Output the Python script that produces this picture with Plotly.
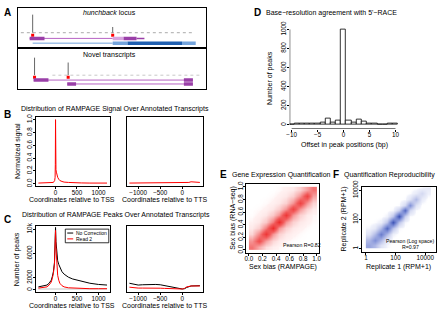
import plotly.graph_objects as go

W, H = 440, 311
def fx(p): return p / W
def fy(p): return 1 - p / H

# ---------------- DATA ----------------
# Panel A (track units 0-100)
hb_track = [1.6, 93.7]
hb_peak_pos = [7.9, 50.5]
hb_peak_height = [3.8, 1.2]
hb_tx1_intron = [6.3, 50.5]
hb_tx1_exons_dark = [[6.3, 14.2], [56.3, 63.2]]
hb_tx1_exons_light = [[50.5, 56.3]]
hb_tx1_tail = [63.2, 67.4]
hb_tx2_intron = [7.9, 50.5]
hb_tx2_exons_dark = [[58.4, 87.4]]
hb_tx2_exons_light = [[50.5, 58.4], [87.4, 94.7]]

nv_track = [18.4, 97.4]
nv_peak_pos = [8.9, 26.8]
nv_peak_height = [3.6, 2.6]
nv_tx1_intron = [8.4, 93.2]
nv_tx1_exons = [[8.4, 16.3], [88.4, 93.2]]
nv_tx2_intron = [26.3, 93.2]
nv_tx2_exons = [[26.3, 31.0], [88.4, 93.2]]

# Panel B
b_tss_x = [-400, -300, -200, -100, -50, -20, -10, -5, 0, 5, 10, 20, 30, 50, 75, 100, 150, 200, 300, 400, 600, 800, 1000, 1200]
b_tss_y = [0.01, 0.01, 0.012, 0.015, 0.02, 0.05, 0.1, 0.3, 1.0, 0.35, 0.22, 0.18, 0.15, 0.1, 0.07, 0.05, 0.035, 0.025, 0.02, 0.015, 0.012, 0.01, 0.01, 0.01]
b_tts_x = [-1200, -1000, -800, -600, -400, -200, 0, 100, 150, 200, 250, 300, 350, 400]
b_tts_y = [0.01, 0.01, 0.012, 0.01, 0.01, 0.012, 0.01, 0.015, 0.02, 0.03, 0.025, 0.03, 0.02, 0.02]

# Panel C
c_tss_x = [-400, -300, -200, -150, -100, -75, -50, -25, -10, 0, 10, 25, 50, 75, 100, 150, 200, 300, 400, 500, 600, 800, 1000, 1200]
c_tss_nocorr = [500, 600, 800, 1100, 1600, 2200, 3000, 4500, 7000, 10300, 8000, 6000, 4800, 4200, 3700, 3000, 2600, 2100, 1800, 1600, 1400, 1100, 900, 800]
c_tss_read2 = [300, 400, 500, 800, 1300, 1900, 2700, 4200, 6500, 9800, 7000, 4500, 2400, 1600, 1100, 700, 500, 350, 300, 250, 220, 200, 200, 200]
c_tss_gray = [150, 150, 150, 150, 150, 150, 150, 150, 150, 150, 150, 150, 150, 150, 150, 150, 150, 150, 150, 150, 150, 150, 150, 150]
c_tts_x = [-1200, -1100, -1000, -900, -800, -700, -600, -500, -400, -300, -200, -100, 0, 50, 100, 200, 300, 400]
c_tts_nocorr = [1100, 950, 800, 850, 900, 950, 900, 850, 700, 600, 500, 250, 150, 200, 400, 650, 700, 700]
c_tts_read2 = [450, 350, 300, 300, 320, 330, 300, 280, 250, 230, 200, 150, 150, 250, 500, 650, 650, 650]

# Panel D
d_offset = [-10, -9, -8, -7, -6, -5, -4, -3, -2, -1, 0, 1, 2, 3, 4, 5, 6, 7, 8, 9, 10]
d_count = [8, 10, 14, 14, 12, 18, 28, 62, 22, 45, 1000, 42, 24, 58, 35, 16, 10, 8, 6, 12, 12]

# Panel E (density of genes, 10x10 bins over [0,1])
e_bins = [0.05, 0.15, 0.25, 0.35, 0.45, 0.55, 0.65, 0.75, 0.85, 0.95]
e_density = [
    [5, 2.5, 0.6, 0.2, 0.1, 0.05, 0.03, 0.02, 0.02, 0.02],
    [3.5, 7, 3, 0.8, 0.3, 0.12, 0.06, 0.04, 0.03, 0.02],
    [0.8, 4, 9, 3.5, 1.0, 0.35, 0.15, 0.08, 0.04, 0.03],
    [0.3, 1.0, 4.5, 10, 3.5, 1.0, 0.35, 0.15, 0.08, 0.04],
    [0.12, 0.35, 1.3, 4.5, 10, 3.5, 1.0, 0.35, 0.15, 0.08],
    [0.06, 0.15, 0.4, 1.3, 3.5, 9, 3.5, 1.0, 0.3, 0.1],
    [0.04, 0.08, 0.15, 0.4, 1.1, 3.5, 8, 3.5, 1.0, 0.3],
    [0.03, 0.04, 0.08, 0.15, 0.35, 1.0, 3.5, 8, 3.5, 0.9],
    [0.02, 0.03, 0.04, 0.08, 0.15, 0.35, 1.0, 3.5, 8, 3],
    [0.02, 0.02, 0.03, 0.04, 0.08, 0.15, 0.3, 1.0, 3, 5],
]

# Panel F (density in log10 space)
f_bins = [0.2, 0.6, 1.0, 1.4, 1.8, 2.2, 2.6, 3.0, 3.4, 3.8, 4.2]
f_density = [
    [4, 3, 1, 0.2, 0, 0, 0, 0, 0, 0, 0],
    [3, 5, 3, 0.5, 0, 0, 0, 0, 0, 0, 0],
    [1, 3, 6, 3, 0.3, 0, 0, 0, 0, 0, 0],
    [0.2, 0.8, 3, 7, 2.5, 0.2, 0, 0, 0, 0, 0],
    [0, 0.1, 0.4, 2.5, 8, 2.5, 0.2, 0, 0, 0, 0],
    [0, 0, 0, 0.3, 2.5, 8, 2, 0.1, 0, 0, 0],
    [0, 0, 0, 0, 0.2, 2, 7, 1.5, 0.1, 0, 0],
    [0, 0, 0, 0, 0, 0.1, 1.5, 5, 1, 0, 0],
    [0, 0, 0, 0, 0, 0, 0.1, 1, 3, 0.5, 0],
    [0, 0, 0, 0, 0, 0, 0, 0.1, 0.6, 1.5, 0.3],
    [0, 0, 0, 0, 0, 0, 0, 0, 0, 0.2, 0.6],
]

# ---------------- FIGURE ----------------
FONT = "Liberation Sans, Arial, sans-serif"
fig = go.Figure()

def seg_trace(spans, y, color, width, ax):
    xs, ys = [], []
    for s, e in spans:
        xs += [s, e, None]; ys += [y, y, None]
    return go.Scatter(x=xs, y=ys, mode="lines", line=dict(color=color, width=width),
                      xaxis="x" + ax, yaxis="y" + ax, hoverinfo="skip", showlegend=False)

def peaks_trace(pos, hts, ax):
    xs, ys = [], []
    for p, h in zip(pos, hts):
        xs += [p, p, None]; ys += [0, h, None]
    return go.Scatter(x=xs, y=ys, mode="lines", line=dict(color="#666666", width=1),
                      xaxis="x" + ax, yaxis="y" + ax, hoverinfo="skip", showlegend=False)

PURPLE_D, PURPLE_L, PURPLE_T = "#9a3fa8", "#d7a4df", "#b763c4"
BLUE_D, BLUE_L = "#1f5fb0", "#74a4dc"

# A top
fig.add_trace(go.Scatter(x=hb_track, y=[0, 0], mode="lines", line=dict(color="#aaa", width=1, dash="dot"),
                         xaxis="x1", yaxis="y1", showlegend=False, hoverinfo="skip"))
fig.add_trace(peaks_trace(hb_peak_pos, hb_peak_height, "1"))
fig.add_trace(go.Scatter(x=hb_peak_pos, y=[-0.55] * len(hb_peak_pos), mode="markers",
                         marker=dict(color="red", size=3, symbol="square"), xaxis="x1", yaxis="y1",
                         showlegend=False, hoverinfo="skip"))
fig.add_trace(seg_trace([hb_tx1_intron], -1.2, PURPLE_T, 1, "1"))
fig.add_trace(seg_trace([hb_tx1_tail], -1.2, PURPLE_D, 1.5, "1"))
fig.add_trace(seg_trace(hb_tx1_exons_light, -1.2, PURPLE_L, 3.5, "1"))
fig.add_trace(seg_trace(hb_tx1_exons_dark, -1.2, PURPLE_D, 3.5, "1"))
fig.add_trace(seg_trace([hb_tx2_intron], -2.2, BLUE_L, 1, "1"))
fig.add_trace(seg_trace(hb_tx2_exons_light, -2.2, BLUE_L, 3.5, "1"))
fig.add_trace(seg_trace(hb_tx2_exons_dark, -2.2, BLUE_D, 3.5, "1"))

# A bottom
fig.add_trace(go.Scatter(x=nv_track, y=[0, 0], mode="lines", line=dict(color="#c8c8c8", width=1, dash="dot"),
                         xaxis="x2", yaxis="y2", showlegend=False, hoverinfo="skip"))
fig.add_trace(peaks_trace(nv_peak_pos, nv_peak_height, "2"))
fig.add_trace(go.Scatter(x=nv_peak_pos, y=[-0.4] * len(nv_peak_pos), mode="markers",
                         marker=dict(color="red", size=3, symbol="square"), xaxis="x2", yaxis="y2",
                         showlegend=False, hoverinfo="skip"))
fig.add_trace(seg_trace([nv_tx1_intron], -1.0, PURPLE_T, 1, "2"))
fig.add_trace(seg_trace(nv_tx1_exons, -1.0, PURPLE_D, 3.5, "2"))
fig.add_trace(seg_trace([nv_tx2_intron], -1.8, PURPLE_T, 1, "2"))
fig.add_trace(seg_trace(nv_tx2_exons, -1.8, PURPLE_D, 3.5, "2"))

# B
fig.add_trace(go.Scatter(x=b_tss_x, y=b_tss_y, mode="lines", line=dict(color="red", width=1),
                         xaxis="x3", yaxis="y3", showlegend=False))
fig.add_trace(go.Scatter(x=b_tts_x, y=b_tts_y, mode="lines", line=dict(color="red", width=1),
                         xaxis="x4", yaxis="y4", showlegend=False))

# C
fig.add_trace(go.Scatter(x=c_tss_x, y=c_tss_gray, mode="lines", line=dict(color="#d8d8d8", width=1.5),
                         xaxis="x5", yaxis="y5", showlegend=False))
fig.add_trace(go.Scatter(x=c_tss_x, y=c_tss_nocorr, mode="lines", line=dict(color="black", width=1),
                         xaxis="x5", yaxis="y5", showlegend=False))
fig.add_trace(go.Scatter(x=c_tss_x, y=c_tss_read2, mode="lines", line=dict(color="red", width=1),
                         xaxis="x5", yaxis="y5", showlegend=False))
fig.add_trace(go.Scatter(x=c_tts_x, y=c_tts_nocorr, mode="lines", line=dict(color="black", width=1),
                         xaxis="x6", yaxis="y6", showlegend=False))
fig.add_trace(go.Scatter(x=c_tts_x, y=c_tts_read2, mode="lines", line=dict(color="red", width=1),
                         xaxis="x6", yaxis="y6", showlegend=False))

# D
fig.add_trace(go.Bar(x=d_offset, y=d_count, width=1, marker=dict(color="white", line=dict(color="black", width=0.8)),
                     xaxis="x7", yaxis="y7", showlegend=False))

# E
fig.add_trace(go.Heatmap(x=e_bins, y=e_bins, z=e_density, zsmooth="best", showscale=False,
                         colorscale=[[0, "rgba(255,255,255,0)"], [0.01, "#fff2f2"], [0.08, "#fcd6d6"],
                                     [0.3, "#f7a0a0"], [0.6, "#f25c5c"], [1, "#ec2a2a"]],
                         xaxis="x8", yaxis="y8", hoverinfo="skip"))
# F
fig.add_trace(go.Heatmap(x=f_bins, y=f_bins, z=f_density, zsmooth="best", showscale=False,
                         colorscale=[[0, "rgba(255,255,255,0)"], [0.03, "#f0f2fb"], [0.25, "#c9cfee"],
                                     [0.6, "#8494d9"], [1, "#3b52b5"]],
                         xaxis="x9", yaxis="y9", hoverinfo="skip"))

TICKF = dict(family=FONT, size=6.3, color="black")

def axis(dom, rng, anchor, box=True, ticks=True, **kw):
    d = dict(domain=dom, range=rng, anchor=anchor, showgrid=False, zeroline=False,
             showline=True, linecolor="black", linewidth=1, mirror=box,
             ticks="outside" if ticks else "", ticklen=2, tickwidth=0.8, tickcolor="black",
             showticklabels=ticks, tickfont=TICKF, fixedrange=True, ticklabelstandoff=-2)
    d.update(kw)
    return d

xa = lambda a, b: [fx(a), fx(b)]
ya = lambda top, bot: [fy(bot), fy(top)]

lay = dict(
    width=W, height=H, margin=dict(l=0, r=0, t=0, b=0),
    paper_bgcolor="white", plot_bgcolor="white", font=dict(family=FONT, size=6, color="black"),
    showlegend=False, bargap=0,
)
lay["xaxis"] = axis(xa(15, 205), [0, 100], "y", ticks=False)
lay["yaxis"] = axis(ya(1, 42), [-3.2, 5.2], "x", ticks=False)
lay["xaxis2"] = axis(xa(15, 205), [0, 100], "y2", ticks=False)
lay["yaxis2"] = axis(ya(42, 84), [-2.8, 5.6], "x2", ticks=False)

lay["xaxis3"] = axis(xa(33, 108), [-464, 1264], "y3", tickvals=[0, 500, 1000])
lay["yaxis3"] = axis(ya(113, 184), [-0.04, 1.04], "x3", tickvals=[0, 0.2, 0.4, 0.6, 0.8, 1.0],
                     ticktext=["0.0", "0.2", "0.4", "0.6", "0.8", "1.0"], tickangle=-90)
lay["xaxis4"] = axis(xa(125, 202), [-1264, 464], "y4", tickvals=[-1000, -500, 0])
lay["yaxis4"] = axis(ya(113, 184), [-0.04, 1.04], "x4", ticks=False)

lay["xaxis5"] = axis(xa(33, 108), [-464, 1264], "y5", tickvals=[0, 500, 1000])
lay["yaxis5"] = axis(ya(225, 293), [-420, 10500], "x5", tickvals=[0, 2000, 6000, 10000], tickangle=-90)
lay["xaxis6"] = axis(xa(125, 202), [-1264, 464], "y6", tickvals=[-1000, -500, 0])
lay["yaxis6"] = axis(ya(225, 293), [-420, 10500], "x6", ticks=False)

D_XR = [-10.38, 10.57]
D_YR = [-41, 1041]
lay["xaxis7"] = axis(xa(290, 400), D_XR, "y7", box=False, showline=False, tickvals=[-10, -5, 0, 5, 10])
lay["yaxis7"] = axis(ya(19, 125), D_YR, "x7", box=False, showline=False,
                     tickvals=[0, 200, 400, 600, 800, 1000], tickangle=-90)

lay["xaxis8"] = axis(xa(246, 320), [-0.04, 1.04], "y8", tickvals=[0, 0.2, 0.4, 0.6, 0.8, 1.0],
                     ticktext=["0.0", "0.2", "0.4", "0.6", "0.8", "1.0"])
lay["yaxis8"] = axis(ya(182, 252), [-0.04, 1.04], "x8", tickvals=[0, 0.2, 0.4, 0.6, 0.8, 1.0],
                     ticktext=["0.0", "0.2", "0.4", "0.6", "0.8", "1.0"], tickangle=-90)

lay["xaxis9"] = axis(xa(363, 438), [-0.27, 4.73], "y9", tickvals=[0, 2, 4], ticktext=["1", "100", "10000"])
lay["yaxis9"] = axis(ya(185, 251), [-0.2, 4.2], "x9", tickvals=[0, 2, 4], ticktext=["1", "100", "10000"], tickangle=-90)

ann = []
def T(x, y, text, size=6, angle=0, bold=False, xanchor="center"):
    ann.append(dict(x=fx(x), y=fy(y), xref="paper", yref="paper", text=("<b>%s</b>" % text) if bold else text,
                    showarrow=False, font=dict(family=FONT, size=size, color="black"), textangle=angle,
                    xanchor=xanchor, yanchor="middle"))

for L, x, y in [("A", 5, 6), ("B", 5, 110), ("C", 5, 218), ("D", 257, 6), ("E", 223, 172), ("F", 337, 172)]:
    T(x, y, L, size=10, bold=True)

TS = 7.0   # main titles
AS = 7.0   # axis titles
T(108, 6, "<i>hunchback</i> locus", size=7)
T(108, 49, "Novel transcripts", size=7)
T(113, 105, "Distribution of RAMPAGE Signal Over Annotated Transcripts", size=TS)
T(114, 214, "Distribution of RAMPAGE Peaks Over Annotated Transcripts", size=TS)
T(70, 198, "Coordinates relative to TSS", size=AS)
T(163, 198, "Coordinates relative to TTS", size=AS)
T(70, 306.5, "Coordinates relative to TSS", size=AS)
T(163, 306.5, "Coordinates relative to TTS", size=AS)
T(15, 148, "Normalized signal", size=AS, angle=-90)
T(15, 259, "Number of peaks", size=AS, angle=-90)
T(332, 6, "Base−resolution agreement with 5'−RACE", size=TS)
T(270, 73, "Number of peaks", size=AS, angle=-90)
T(345, 142, "Offset in peak positions (bp)", size=AS)
T(282, 172, "Gene Expression Quantification", size=TS)
T(283, 267, "Sex bias (RAMPAGE)", size=AS)
T(233, 216, "Sex bias (RNA−seq)", size=AS, angle=-90)
T(302, 244, "Pearson R=0.82", size=5.2)
T(439, 172, "Quantification Reproducibility", size=TS, xanchor="right")
T(400, 267, "Replicate 1 (RPM+1)", size=AS)
T(345, 218, "Replicate 2 (RPM+1)", size=AS, angle=-90)
T(412, 240, "Pearson (Log space)", size=5.2)
T(412, 246, "R=0.97", size=5.2)

# legend for panel C (drawn manually)
T(72, 232, "No Correction", size=5, xanchor="left")
T(72, 238, "Read 2", size=5, xanchor="left")
shapes = [
    dict(type="rect", xref="paper", yref="paper", x0=fx(63), x1=fx(107), y0=fy(242), y1=fy(228),
         line=dict(color="black", width=0.8), fillcolor="white", layer="above"),
    dict(type="line", xref="paper", yref="paper", x0=fx(65), x1=fx(71), y0=fy(232), y1=fy(232),
         line=dict(color="black", width=1)),
    dict(type="line", xref="paper", yref="paper", x0=fx(65), x1=fx(71), y0=fy(238), y1=fy(238),
         line=dict(color="red", width=1)),
    # R-style axis lines for panel D (span only the tick range)
    dict(type="line", xref="x7", yref="y7", x0=-10, x1=10, y0=D_YR[0], y1=D_YR[0],
         line=dict(color="black", width=1)),
    dict(type="line", xref="x7", yref="y7", x0=D_XR[0], x1=D_XR[0], y0=0, y1=1000,
         line=dict(color="black", width=1)),
]
lay["annotations"] = ann
lay["shapes"] = shapes
fig.update_layout(**lay)
fig.write_html("out.html", config={"displayModeBar": False},
               post_script="document.body.style.margin='0';document.body.style.overflow='hidden';")
